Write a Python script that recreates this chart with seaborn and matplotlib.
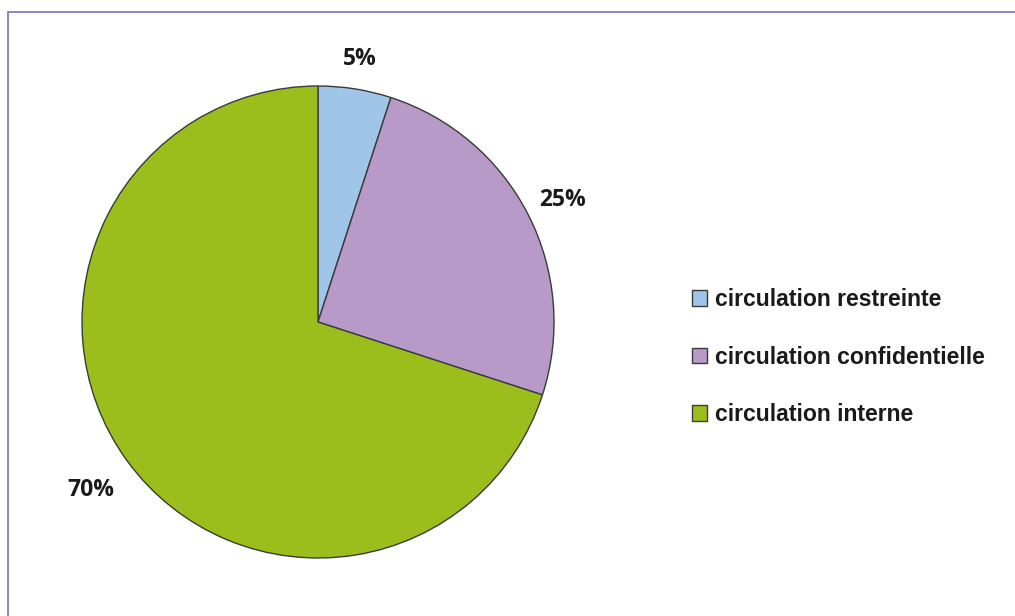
import matplotlib
matplotlib.use("Agg")
import matplotlib.pyplot as plt
from matplotlib.patches import Rectangle
import numpy as np
import seaborn as sns

categories = ["circulation restreinte", "circulation confidentielle", "circulation interne"]
values = [5, 25, 70]
colors = ["#9FC5E8", "#B79AC8", "#9CBE1C"]
label_radius = [1.14, 1.165, 1.19]

sns.set_theme(style="white")
plt.rcParams['font.family'] = ['Liberation Sans', 'DejaVu Sans']

W, H = 1015, 616
fig = plt.figure(figsize=(W / 100, H / 100), dpi=100)

cx, cy, R = 318, 322, 236
lim = 1.3
size = 2 * R * lim
ax = fig.add_axes([(cx - size / 2) / W, (H - cy - size / 2) / H, size / W, size / H])

wedges, texts, autotexts = ax.pie(
    values, colors=colors, startangle=90, counterclock=False,
    autopct=lambda p: f"{p:.0f}%", pctdistance=1.165,
    wedgeprops=dict(edgecolor="#3a3a3a", linewidth=1.0),
)
for w, t, r in zip(wedges, autotexts, label_radius):
    ang = np.deg2rad((w.theta1 + w.theta2) / 2)
    t.set_position((r * np.cos(ang), r * np.sin(ang)))
    t.set_fontfamily(['Open Sans', 'DejaVu Sans'])
    t.set_fontweight('bold')
    t.set_fontsize(16.5)
    t.set_color('#1a1a1a')
    t.set_verticalalignment('center_baseline')
ax.set_xlim(-lim, lim)
ax.set_ylim(-lim, lim)
ax.set_aspect('equal')
ax.axis('off')

leg = fig.legend(
    wedges, categories, loc='upper left',
    bbox_to_anchor=(692 / W, 1 - 288 / H), frameon=False,
    prop=dict(family=['Liberation Sans', 'DejaVu Sans'], weight='bold', size=16.6),
    handlelength=0.65, handleheight=0.65,
    handletextpad=0.33, labelspacing=1.5, borderpad=0, borderaxespad=0,
)
for t in leg.get_texts():
    t.set_color('#1a1a1a')

fig.patches.append(Rectangle((8 / W, -0.1), 1.1, (H - 12) / H + 0.1,
                             transform=fig.transFigure, fill=False,
                             edgecolor='#7B72B8', linewidth=1.2))

fig.savefig("out.png", dpi=100, facecolor='white')
